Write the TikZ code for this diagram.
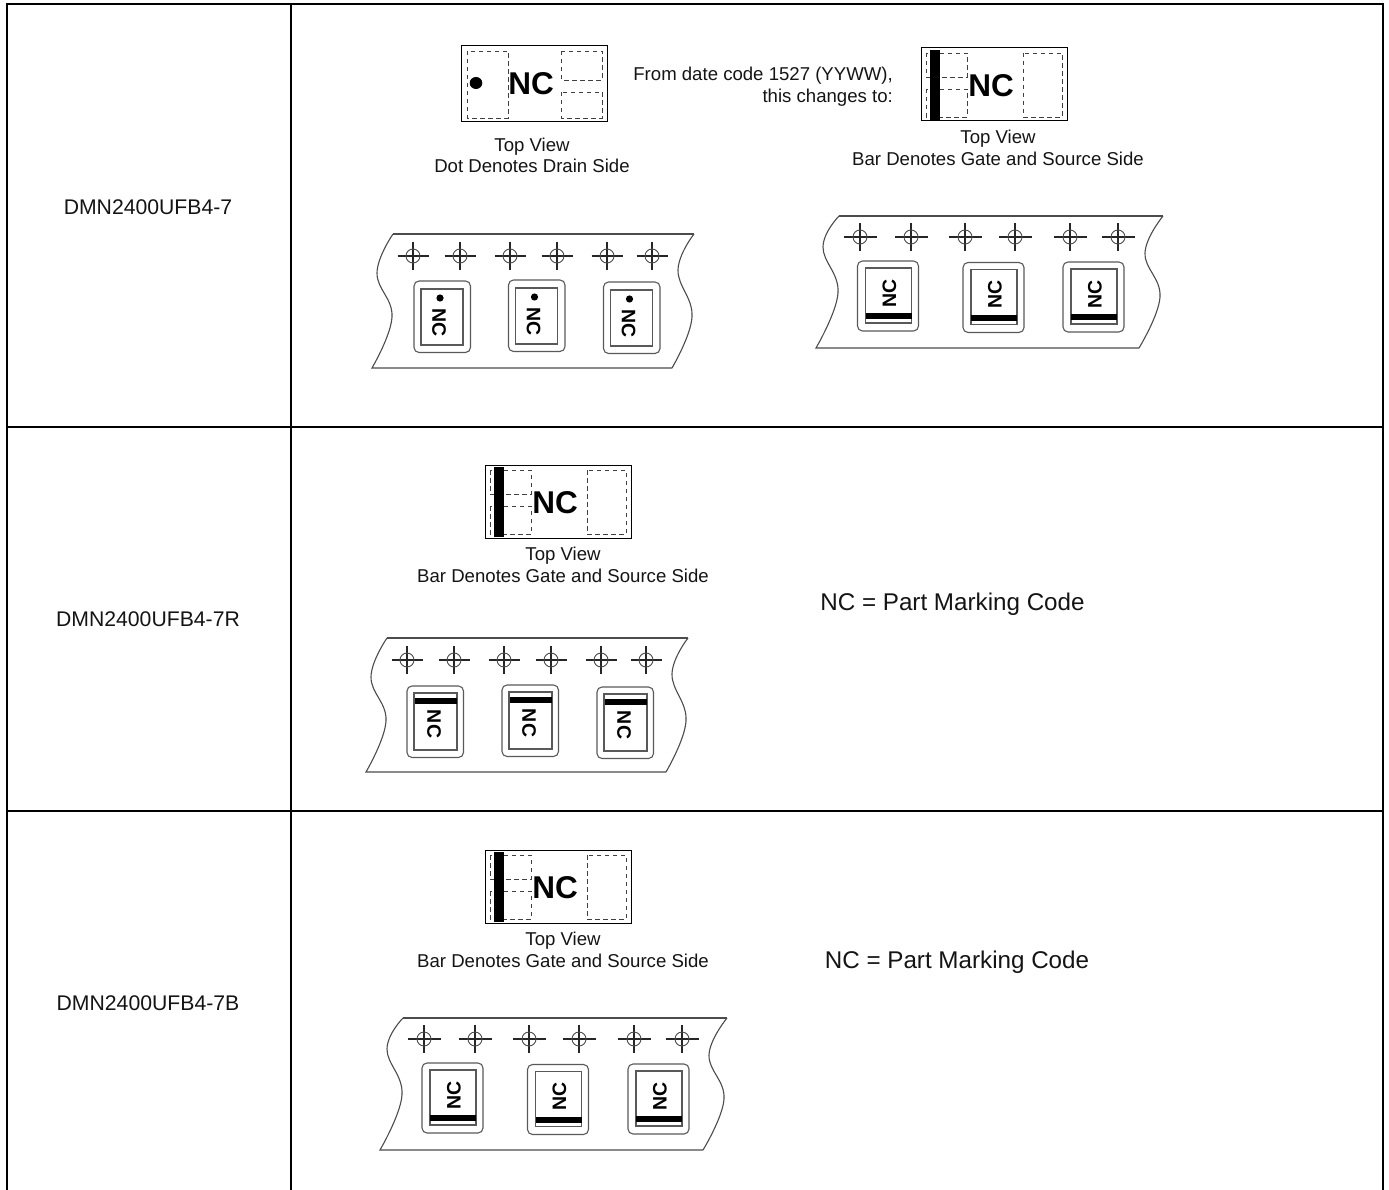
\documentclass[tikz,border=0pt]{standalone}
\usepackage{fontspec}
\setmainfont{Liberation Sans}
\tikzset{
  x=1pt,y=-1pt,
  gridline/.style={line width=2pt,black},
  tapeline/.style={line width=1.1pt,draw=black!70},
  pkgline/.style={line width=1.1pt,draw=black!65},
  padline/.style={line width=0.9pt,draw=black!75,dash pattern=on 4.5pt off 3.5pt},
  chipline/.style={line width=1pt,draw=black},
  crossline/.style={line width=1.4pt,draw=black!85},
  label/.style={inner sep=0pt,font=\fontsize{18.6}{21.7}\selectfont,align=center,text=black!92},
  partname/.style={inner sep=0pt,font=\fontsize{21.2}{24}\selectfont,text=black!92},
  bigcode/.style={inner sep=0pt,font=\fontsize{31.5}{32}\selectfont\bfseries},
  tapecode/.style={inner sep=0pt,font=\fontsize{19.5}{20}\selectfont\bfseries},
  notecode/.style={inner sep=0pt,font=\fontsize{24.2}{26}\selectfont,text=black!92},
}
% crosshair at relative position
\newcommand{\xhair}[3]{%
  \draw[crossline] (#1-#3,#2) -- (#1+#3,#2) (#1,#2-14) -- (#1,#2+14);
  \draw[line width=0.9pt,draw=black!70] (#1,#2) circle (7);
}
% narrow tape
\newcommand{\tapenarrow}[1]{%
  \begin{scope}[shift={(#1)}]
    \draw[tapeline] plot[smooth,tension=0.7] coordinates {(0,0) (-16,39) (-1,83) (-21,134)}
       -- (279,134);
    \draw[tapeline] (0,0) -- (301,0);
    \draw[tapeline] plot[smooth,tension=0.7] coordinates {(301,0) (285,36) (299,83) (279,134)};
    \xhair{20}{22}{15.5}\xhair{67}{22}{15.5}\xhair{117}{22}{15.5}
    \xhair{164}{22}{15.5}\xhair{214}{22}{15.5}\xhair{259}{22}{15.5}
  \end{scope}}
% wide tape
\newcommand{\tapewide}[1]{%
  \begin{scope}[shift={(#1)}]
    \draw[tapeline] plot[smooth,tension=0.7] coordinates {(0,0) (-16,31) (-1,77) (-23,132)}
       -- (300,132);
    \draw[tapeline] (0,0) -- (324,0);
    \draw[tapeline] plot[smooth,tension=0.7] coordinates {(324,0) (306,37) (321,81) (300,132)};
    \xhair{21}{21}{16.5}\xhair{72}{21}{16.5}\xhair{126}{21}{16.5}
    \xhair{176}{21}{16.5}\xhair{231}{21}{16.5}\xhair{279}{21}{16.5}
  \end{scope}}
% narrow package with dot
\newcommand{\pkgdot}[1]{%
  \begin{scope}[shift={(#1)}]
    \draw[pkgline,rounded corners=5] (0,0) rectangle (56.5,71.5);
    \draw[pkgline] (7,8) rectangle (49,64);
    \fill[black] (26,17) circle (3.6);
    \node[tapecode,rotate=-90] at (25,42) {NC};
  \end{scope}}
% narrow package with bar on top
\newcommand{\pkgtop}[1]{%
  \begin{scope}[shift={(#1)}]
    \draw[pkgline,rounded corners=5] (0,0) rectangle (56.5,71.5);
    \draw[pkgline] (7,7) rectangle (50,64);
    \fill[black] (8,12) rectangle (50,18);
    \node[tapecode,rotate=-90] at (27,38) {NC};
  \end{scope}}
% wide package with bar on bottom
\newcommand{\pkgbottom}[1]{%
  \begin{scope}[shift={(#1)}]
    \draw[pkgline,rounded corners=5] (0,0) rectangle (61,70);
    \draw[pkgline] (8,7) rectangle (54,62);
    \fill[black] (8,52) rectangle (54,58);
    \node[tapecode,rotate=90] at (32,32) {NC};
  \end{scope}}
% chip with bar
\newcommand{\chipbar}[1]{%
  \begin{scope}[shift={(#1)}]
    \draw[padline] (5,5) rectangle (46,29);
    \draw[padline] (5,41) rectangle (46,69);
    \draw[padline] (102,5) rectangle (141,69);
    \fill[black] (8.5,2) rectangle (18.5,72);
    \draw[chipline] (0,0) rectangle (146.5,73);
    \node[bigcode] at (70,38) {NC};
  \end{scope}}
\begin{document}
\begin{tikzpicture}
\useasboundingbox (0,0) rectangle (1389,1190);
% table grid
\draw[gridline] (7,1190) -- (7,4) -- (1383,4) -- (1383,1190);
\draw[gridline] (291,4) -- (291,1190);
\draw[gridline] (7,427) -- (1383,427);
\draw[gridline] (7,811) -- (1383,811);
% left column
\node[partname] (p1) at (148,207) {DMN2400UFB4-7};
\node[partname] (p2) at (148,619) {DMN2400UFB4-7R};
\node[partname] (p3) at (148,1003) {DMN2400UFB4-7B};
% dot chip
\draw[padline] (467,51) rectangle (508,118);
\draw[padline] (561,51) rectangle (602,80);
\draw[padline] (561,92) rectangle (602,118);
\draw[chipline] (461,46) rectangle (607,122);
\fill[black] (476,83) ellipse (6.3 and 6);
\node[bigcode] (c1) at (531,84) {NC};
\node[label] (t1) at (532,155.5) {Top View\\Dot Denotes Drain Side};
\node[label,align=right,anchor=east] (t2) at (893,86.5) {From date code 1527 (YYWW),\\this changes to:};
% bar chips
\chipbar{921,48}
\node[label] (t3) at (998,148) {Top View\\Bar Denotes Gate and Source Side};
\chipbar{485,465}
\node[label] (t4) at (563,564.5) {Top View\\Bar Denotes Gate and Source Side};
\chipbar{485,850}
\node[label] (t5) at (563,949.5) {Top View\\Bar Denotes Gate and Source Side};
\node[notecode] (n1) at (952.5,604) {NC = Part Marking Code};
\node[notecode] (n2) at (957,962) {NC = Part Marking Code};
% tapes
\tapenarrow{393,234}
\pkgdot{414,281}\pkgdot{508.5,280}\pkgdot{603.5,282}
\tapenarrow{387,638}
\pkgtop{407,686}\pkgtop{502,685}\pkgtop{597,687}
\tapewide{839,216}
\pkgbottom{857.5,261}\pkgbottom{963,262.5}\pkgbottom{1063,262}
\tapewide{403,1018}
\pkgbottom{422,1063}\pkgbottom{527.5,1064.5}\pkgbottom{628,1064}
\end{tikzpicture}
\end{document}
